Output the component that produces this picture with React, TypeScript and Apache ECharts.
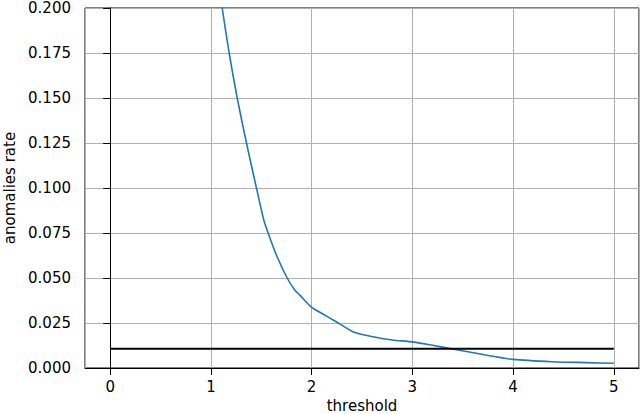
import React, { useEffect, useRef } from "react";
import * as echarts from "echarts";

const thresholds = [1.0, 1.112, 1.181, 1.261, 1.353, 1.452, 1.525, 1.568, 1.65, 1.757, 1.832, 1.881, 2.0, 2.112, 2.244, 2.409, 2.607, 2.805, 3.0, 3.2, 3.4, 3.73, 4.0, 4.39, 4.72, 5.0];
const anomalyRates = [0.243, 0.2, 0.175, 0.15, 0.125, 0.1, 0.0822, 0.075, 0.0628, 0.05, 0.0433, 0.0406, 0.0337, 0.03, 0.0257, 0.0202, 0.0174, 0.0156, 0.0145, 0.0126, 0.0106, 0.0072, 0.0048, 0.0035, 0.003, 0.0026];
const targetX = [0, 5];
const targetRate = [0.0107, 0.0107];

const FONT = "DejaVu Sans";

export default function App() {
  const ref = useRef<HTMLDivElement>(null);
  useEffect(() => {
    if (!ref.current) return;
    const chart = echarts.init(ref.current, undefined, { renderer: "svg" });
    chart.setOption({
      animation: false,
      textStyle: { fontFamily: FONT },
      grid: {
        left: 85,
        right: 1,
        top: 8,
        bottom: 46,
        containLabel: false,
        outerBoundsMode: "none",
        show: true,
        borderColor: "#000",
        borderWidth: 1,
        backgroundColor: "transparent",
      },
      xAxis: {
        type: "value",
        min: -0.25,
        max: 5.25,
        minInterval: 1,
        maxInterval: 1,
        name: "threshold",
        nameLocation: "middle",
        nameGap: 30,
        nameTextStyle: { fontSize: 15, color: "#000", fontFamily: FONT },
        axisLine: { show: true, lineStyle: { color: "#000", width: 1 } },
        axisTick: { show: true, inside: false, length: 7, lineStyle: { color: "#000" } },
        axisLabel: {
          margin: 11,
          fontSize: 15,
          color: "#000",
          fontFamily: FONT,
          showMinLabel: false,
          showMaxLabel: false,
          formatter: (v: number) => (Math.abs(v - Math.round(v)) < 1e-6 ? String(Math.round(v)) : ""),
        },
        splitLine: { show: true, lineStyle: { color: "#b0b0b0", width: 1 } },
      },
      yAxis: {
        type: "value",
        min: 0,
        max: 0.2,
        interval: 0.025,
        name: "anomalies rate",
        nameLocation: "middle",
        nameGap: 67,
        nameTextStyle: { fontSize: 15, color: "#000", fontFamily: FONT },
        axisLine: { show: true, lineStyle: { color: "#000", width: 1 } },
        axisTick: { show: true, inside: false, length: 7, lineStyle: { color: "#000" } },
        axisLabel: {
          margin: 14,
          fontSize: 15,
          color: "#000",
          fontFamily: FONT,
          formatter: (v: number) => v.toFixed(3),
        },
        splitLine: { show: true, lineStyle: { color: "#b0b0b0", width: 1 } },
      },
      series: [
        {
          type: "line",
          data: thresholds.map((x, i) => [x, anomalyRates[i]]),
          showSymbol: false,
          symbol: "none",
          clip: true,
          smooth: 0.2,
          lineStyle: { color: "#1f77b4", width: 1.6 },
        },
        {
          type: "line",
          data: targetX.map((x, i) => [x, targetRate[i]]),
          showSymbol: false,
          symbol: "none",
          lineStyle: { color: "#000", width: 2 },
        },
      ],
    });
    return () => chart.dispose();
  }, []);
  return <div ref={ref} style={{ width: 640, height: 414, position: "fixed", left: 0, top: 0, background: "#fff" }} />;
}
